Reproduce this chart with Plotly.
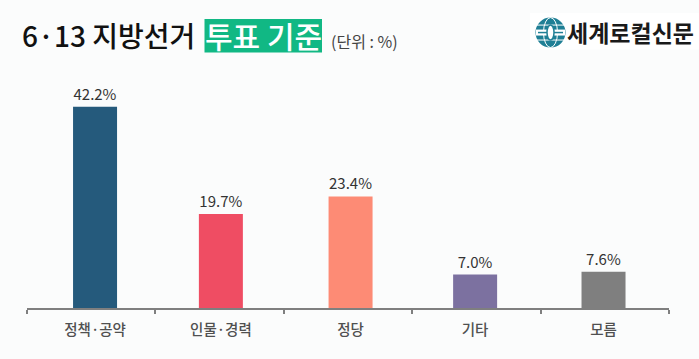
import plotly.graph_objects as go

categories = ["정책·공약", "인물·경력", "정당", "기타", "모름"]
values = [42.2, 19.7, 23.4, 7.0, 7.6]
value_labels = ["42.2%", "19.7%", "23.4%", "7.0%", "7.6%"]
colors = ["#255a7c", "#ef4d63", "#fd8b75", "#7c71a0", "#7f7f7f"]
positions = [0.03, 1.01, 2.02, 2.99, 3.99]
boundaries = [-0.5, 0.5, 1.5, 2.5, 3.5, 4.5]

W, H = 699, 359
BG = "#fbfcfc"
FONT = "Noto Sans CJK KR"
L, R, T, B = 27, 30, 60, 50.5


def px(x):
    return (x - L) / (W - L - R)


def py(y):
    return (H - B - y) / (H - T - B)


fig = go.Figure(
    go.Bar(
        x=positions,
        y=values,
        width=44 / 128.4,
        marker=dict(color=colors, line=dict(width=0)),
        text=value_labels,
        textposition="outside",
        cliponaxis=False,
        textfont=dict(family=FONT, size=15, color="#333333"),
        hoverinfo="skip",
    )
)

annotations = [
    dict(text="6·13 지방선거", x=px(21), y=py(35), xanchor="left", yanchor="middle",
         font=dict(family=FONT, size=28, color="#111111", weight=500)),
    dict(text="투표 기준", x=px(263), y=py(35), xanchor="center", yanchor="middle",
         font=dict(family=FONT, size=30, color="#ffffff", weight=500)),
    dict(text="(단위 : %)", x=px(330), y=py(41), xanchor="left", yanchor="middle",
         font=dict(family=FONT, size=16, color="#444444")),
    dict(text="세계로컬신문", x=px(566), y=py(32), xanchor="left", yanchor="middle",
         font=dict(family=FONT, size=23, color="#1a1a1a", weight=700)),
]
for a in annotations:
    a.update(xref="paper", yref="paper", showarrow=False, borderpad=0)


def pshape(kind, x0, y0, x1, y1, **kw):
    return dict(type=kind, xref="paper", yref="paper", x0=px(x0), y0=py(y0), x1=px(x1), y1=py(y1), **kw)


TEAL = "#1f7f95"
shapes = [
    pshape("rect", 204.5, 19, 322, 52.5, fillcolor="#11b884", line_width=0, layer="below"),
    pshape("rect", 530, 13, 699, 49.5, fillcolor="#ffffff", line_width=0, layer="below"),
    pshape("circle", 535.5, 17.5, 565.5, 47.5, fillcolor=TEAL, line_width=0),
    pshape("circle", 543.5, 17.5, 557.5, 47.5, line=dict(color="#ffffff", width=1)),
    pshape("line", 537, 25, 564, 25, line=dict(color="#ffffff", width=1)),
    pshape("line", 537, 40, 564, 40, line=dict(color="#ffffff", width=1)),
    pshape("rect", 536, 29.5, 565, 35.5, fillcolor="#ffffff", line_width=0),
    pshape("line", 538, 32.5, 563, 32.5, line=dict(color=TEAL, width=1.5)),
    pshape("circle", 547, 25, 554, 40, fillcolor="#ffffff", line=dict(color=TEAL, width=1.5)),
]

fig.update_layout(
    width=W,
    height=H,
    margin=dict(l=L, r=R, t=T, b=B, pad=0),
    paper_bgcolor=BG,
    plot_bgcolor=BG,
    showlegend=False,
    annotations=annotations,
    shapes=shapes,
    xaxis=dict(
        range=[-0.5, 4.5],
        tickmode="array",
        tickvals=positions,
        ticktext=categories,
        ticks="",
        tickfont=dict(family=FONT, size=14.5, color="#505050", weight=500),
        ticklabelstandoff=8,
        showgrid=False,
        zeroline=False,
        showline=True,
        linecolor="#7f7f7f",
        linewidth=2,
        minor=dict(tickmode="array", tickvals=boundaries, ticks="outside", ticklen=4, tickwidth=1.5,
                   tickcolor="#7f7f7f", showgrid=False),
    ),
    yaxis=dict(range=[0, 52], visible=False),
)

fig.write_html(
    "out.html",
    config={"displayModeBar": False},
    post_script="document.body.style.margin='0';document.documentElement.style.overflow='hidden';",
)
